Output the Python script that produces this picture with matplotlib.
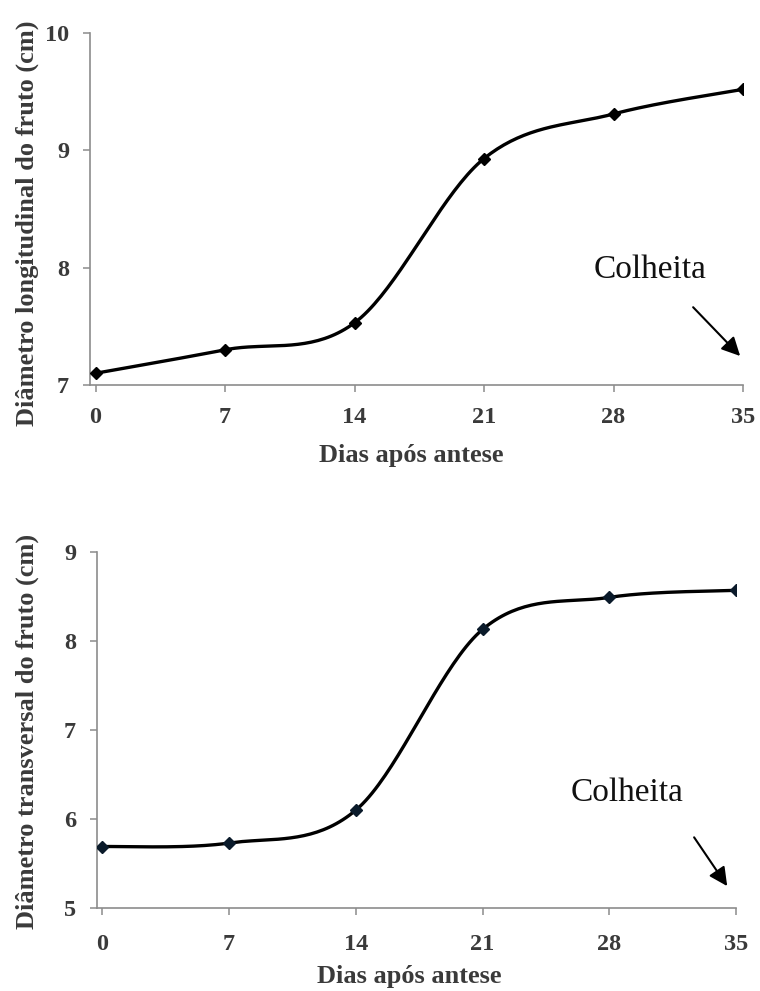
import numpy as np
import matplotlib
matplotlib.use("Agg")
import matplotlib.pyplot as plt

plt.rcParams['font.family'] = ['Liberation Serif', 'DejaVu Serif']

dias = [0, 7, 14, 21, 28, 35]
diam_long = [7.10, 7.30, 7.53, 8.93, 9.31, 9.52]
diam_trans = [5.69, 5.73, 6.10, 8.13, 8.49, 8.57]
x_ticks = [0, 7, 14, 21, 28, 35]
y_ticks_long = [7, 8, 9, 10]
y_ticks_trans = [5, 6, 7, 8, 9]


def smooth(xs, ys, n=40):
    xs = np.asarray(xs, float)
    ys = np.asarray(ys, float)
    P = np.column_stack([xs, ys])
    Pe = np.vstack([P[0], P, P[-1]])
    out = []
    t = np.linspace(0, 1, n)[:, None]
    for i in range(len(P) - 1):
        p0 = Pe[i + 1]
        p3 = Pe[i + 2]
        c1 = p0 + (Pe[i + 2] - Pe[i]) / 6.0
        c2 = p3 - (Pe[i + 3] - Pe[i + 1]) / 6.0
        seg = (1 - t) ** 3 * p0 + 3 * (1 - t) ** 2 * t * c1 + 3 * (1 - t) * t ** 2 * c2 + t ** 3 * p3
        out.append(seg if i == 0 else seg[1:])
    arr = np.vstack(out)
    return arr[:, 0], arr[:, 1]


fig = plt.figure(figsize=(7.6, 9.91), dpi=100)

W, H = 760, 991


def make_axes(l, r, t, b):
    return fig.add_axes([l / W, 1 - b / H, (r - l) / W, (b - t) / H])


ax1 = make_axes(90, 743, 33, 385)
ax2 = make_axes(97, 736, 552, 908)

tick_col = '#3a3a3a'
spine_col = '#8c8c8c'

for ax, ys, yt, mc, xpad in [(ax1, diam_long, y_ticks_long, 'black', 11),
                             (ax2, diam_trans, y_ticks_trans, '#0a1a2a', 14)]:
    sx, sy = smooth(dias, ys)
    ax.plot(sx, sy, color='black', lw=2.4, solid_capstyle='round', zorder=3)
    ax.plot(dias, ys, linestyle='none', marker='D', markersize=6.5,
            color=mc, zorder=4)
    ax.set_xlim(-0.3, 35)
    ax.set_ylim(yt[0], yt[-1])
    ax.set_xticks(x_ticks)
    ax.set_yticks(yt)
    for s in ['top', 'right']:
        ax.spines[s].set_visible(False)
    for s in ['left', 'bottom']:
        ax.spines[s].set_color(spine_col)
        ax.spines[s].set_linewidth(1.2)
    ax.tick_params(axis='both', colors=spine_col, labelcolor=tick_col,
                   labelsize=17.5, length=5, width=1.1, direction='out')
    ax.tick_params(axis='x', pad=xpad)
    ax.tick_params(axis='y', pad=10)
    for lab in ax.get_xticklabels() + ax.get_yticklabels():
        lab.set_fontweight('bold')
    ax.patch.set_alpha(0)

# Annotations
ax1.annotate('', xy=(34.95, 7.23), xytext=(32.2, 7.68),
             arrowprops=dict(arrowstyle='-|>', color='black', lw=1.5,
                             mutation_scale=28))
ax1.text(30.0, 7.98, 'Colheita', fontsize=24, ha='center', va='center',
         color='#111111')
ax2.annotate('', xy=(34.6, 5.22), xytext=(32.6, 5.82),
             arrowprops=dict(arrowstyle='-|>', color='black', lw=1.5,
                             mutation_scale=28))
ax2.text(29.0, 6.29, 'Colheita', fontsize=24, ha='center', va='center',
         color='#111111')

# Axis labels
fig.text(411 / W, 1 - 455 / H, 'Dias após antese', fontsize=19, ha='center',
         va='center', color=tick_col, fontweight='bold')
fig.text(409 / W, 1 - 976 / H, 'Dias após antese', fontsize=19, ha='center',
         va='center', color=tick_col, fontweight='bold')
fig.text(27 / W, 1 - 223 / H, 'Diâmetro longitudinal do fruto (cm)', fontsize=19,
         rotation=90, ha='center', va='center', color=tick_col, fontweight='bold')
fig.text(27 / W, 1 - 731 / H, 'Diâmetro transversal do fruto (cm)', fontsize=19,
         rotation=90, ha='center', va='center', color=tick_col, fontweight='bold')

fig.savefig('out.png', dpi=100, facecolor='white')
